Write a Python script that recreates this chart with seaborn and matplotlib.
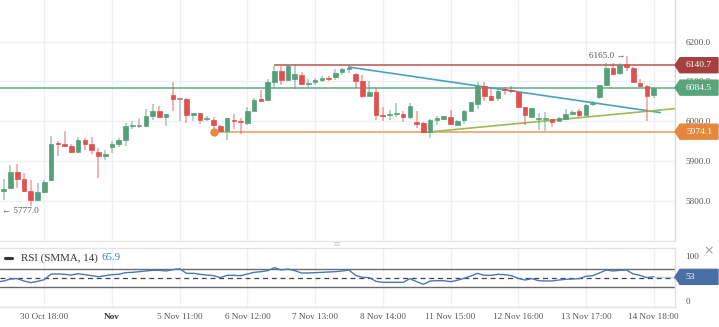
import matplotlib
matplotlib.use("Agg")
import matplotlib.pyplot as plt
import matplotlib.transforms as mtransforms
from matplotlib.patches import Polygon
from matplotlib.lines import Line2D
import numpy as np
import pandas as pd
import seaborn as sns

# ---------------- data ----------------
opens = [5780, 5826, 5832, 5872, 5855, 5825, 5804, 5823, 5852, 5944,
         5944, 5937, 5922, 5954, 5944, 5923, 5912, 5936, 5944, 5952,
         5988, 5989.5, 5989, 6014, 6025, 6012, 6065, 6056, 6057, 6015,
         6021, 6005, 6004, 5988, 5975, 6004, 6002, 5996, 6027, 6056,
         6054, 6098, 6125, 6103, 6107, 6117, 6094, 6098, 6103, 6109,
         6110, 6123, 6132, 6118, 6100, 6064, 6073, 6016, 6017, 6018,
         6018, 6010, 5998, 5996, 5973, 6004, 6006, 6011, 5992, 6004,
         6027, 6043, 6088, 6063, 6058, 6080, 6079, 6073, 6035, 6012,
         6006, 6007, 6006, 6002, 6006, 6019, 6027, 6017, 6043, 6061,
         6090, 6133, 6121, 6143, 6135, 6096, 6089, 6065]
highs = [5828, 5856, 5890, 5893, 5871, 5853, 5846, 5852, 5964, 5950,
         5977, 5942, 5960, 5957, 5962, 5933, 5927, 5950, 5958, 5996,
         6002, 6008, 6031, 6043, 6039, 6019, 6098, 6057, 6059, 6022,
         6022, 6014, 6011, 5990, 6009, 6018, 6008, 6037, 6058, 6079,
         6107, 6138, 6138, 6141, 6141, 6123, 6107, 6108, 6113, 6114,
         6132, 6134, 6144, 6120, 6117, 6100, 6083, 6036, 6029, 6046,
         6025, 6046, 6027, 5998, 6005, 6013, 6014, 6028, 6004, 6028,
         6049, 6098, 6098, 6086, 6079, 6086, 6089, 6074, 6036, 6034,
         6021, 6023, 6007, 6011, 6032, 6029, 6031, 6044, 6050, 6092,
         6146, 6146, 6146, 6165, 6136, 6106, 6092, 6085]
lows = [5777, 5802, 5830, 5832, 5822, 5789, 5801, 5820, 5850, 5912,
        5935, 5920, 5921, 5929, 5917, 5858, 5902, 5920, 5936, 5939,
        5981, 5983, 5988, 6004, 6010, 5989, 6027, 6002, 5996, 6000,
        5994, 6000, 5975, 5975, 5954, 5982, 5969, 5992, 6025, 6048,
        6050, 6083, 6092, 6100, 6080, 6090, 6086, 6092, 6098, 6102,
        6104, 6115, 6120, 6083, 6058, 6063, 6004, 6002, 6004, 6010,
        5998, 6007, 5983, 5971, 5958, 5990, 6004, 5990, 5990, 5993,
        6023, 6031, 6052, 6052, 6050, 6065, 6071, 6033, 5990, 6011,
        5978, 5975, 5986, 6000, 6004, 6018, 6010, 6015, 6038, 6057,
        6088, 6115, 6117, 6125, 6095, 6087, 6002, 6058]
closes = [5825, 5831, 5872, 5856, 5825, 5804, 5823, 5848, 5944, 5942,
          5939, 5922, 5954, 5944, 5927, 5912, 5917, 5944, 5952, 5988,
          5990, 5989.5, 6014, 6025, 6012, 6018, 6057, 6056, 6015, 6021,
          6004, 6007, 5990, 5976, 6008, 6000, 5998, 6027, 6054, 6052,
          6098, 6125, 6103, 6140, 6119, 6093, 6097, 6103, 6108, 6107,
          6121, 6132, 6135, 6100, 6063, 6073, 6017, 6014, 6019, 6020,
          6012, 6039, 5994, 5974, 6004, 6008, 6013, 5994, 6002, 6027,
          6048, 6089, 6063, 6053, 6075, 6078, 6077, 6035, 6015, 6033,
          6008, 6009, 5998, 6008, 6019, 6023, 6017, 6042, 6045, 6090,
          6133, 6118, 6142, 6137, 6098, 6089, 6064, 6084.5]
rsi_values = [41.6, 43.8, 48.2, 49.0, 43.8, 40.0, 43.0, 46.7, 59.3, 59.3,
              58.6, 57.1, 60.0, 57.9, 55.6, 53.4, 55.6, 57.9, 58.6, 62.3,
              63.0, 64.5, 66.0, 67.5, 67.5, 66.0, 69.0, 71.0, 60.8, 60.8,
              58.6, 57.1, 55.6, 51.2, 56.4, 56.4, 55.6, 59.3, 63.0, 64.5,
              66.7, 73.4, 68.2, 70.4, 66.7, 61.6, 61.6, 62.3, 63.0, 63.8,
              64.5, 66.0, 68.2, 56.0, 52.0, 51.2, 43.0, 40.8, 40.8, 40.8,
              40.8, 49.0, 42.3, 36.4, 43.8, 44.5, 44.5, 42.3, 45.3, 49.7,
              54.9, 60.8, 56.4, 56.4, 58.6, 57.9, 55.6, 49.7, 46.0, 49.0,
              44.5, 43.8, 43.8, 46.0, 47.5, 48.2, 49.0, 54.2, 55.6, 61.6,
              68.2, 66.0, 67.5, 68.2, 59.3, 56.4, 51.2, 53.4]
tick_positions = [7, 17, 27, 37, 47, 57, 67, 77, 87, 97]
tick_labels = ["30 Oct 18:00", "Nov", "5 Nov 11:00", "6 Nov 12:00", "7 Nov 13:00",
               "8 Nov 14:00", "11 Nov 15:00", "12 Nov 16:00", "13 Nov 17:00", "14 Nov 18:00"]
price_ticks = [5800, 5900, 6000, 6100, 6200]
level_high = 6140.7
level_last = 6084.5
level_low = 5974.1
level_high_start = 41
level_low_start = 32
trend_down = ([52, 98], [6136, 6022])
trend_up = ([63, 100.2], [5972, 6032])
max_label = 6165.0
min_label = 5777.0
rsi_label_value = 53
rsi_legend_value = 65.9

# ---------------- figure ----------------
sns.set_theme(style="white")
plt.rcParams["font.family"] = ["Liberation Serif", "DejaVu Sans"]

W, H = 719, 327
fig = plt.figure(figsize=(W / 100, H / 100), dpi=100)
fig.patch.set_facecolor("white")
plot_w = 675
main_bottom = 241
rsi_top, rsi_bottom = 248, 307
ax = fig.add_axes([0, (H - main_bottom) / H, plot_w / W, main_bottom / H])
ax2 = fig.add_axes([0, (H - rsi_bottom) / H, plot_w / W, (rsi_bottom - rsi_top) / H])

xl = (0.458, 100.16)
idx = np.arange(len(opens))
df = pd.DataFrame({"i": idx, "o": opens, "h": highs, "l": lows, "c": closes, "rsi": rsi_values})

GREEN = "#54a078"
RED = "#e05050"
GRAY = "#8a8a8a"
colors = [GREEN if c > o else (RED if c < o else GRAY) for o, c in zip(df.o, df.c)]

# wicks
ax.vlines(df.i, df.l, df.h, colors=colors, lw=1.1, alpha=0.55, zorder=3)
# bodies
body_bottom = np.minimum(df.o, df.c)
body_h = np.maximum(np.abs(df.c - df.o), 2.5)
ax.bar(df.i, body_h, bottom=body_bottom, width=0.68, color=colors,
       edgecolor=colors, linewidth=0.5, zorder=4)

ax.set_xlim(*xl)
ax.set_ylim(5700, 6304.25)
ax.set_yticks(price_ticks)
ax.set_yticklabels([f"{v:.1f}" for v in price_ticks])
ax.yaxis.tick_right()
ax.tick_params(axis="y", length=0, pad=7.5, labelsize=6.6, labelcolor="#555555")
ax.set_xticks(tick_positions)
ax.tick_params(axis="x", length=0, labelbottom=False)
ax.grid(True, color="#eef1f4", lw=1)
ax.set_axisbelow(True)
for s in ["top", "left"]:
    ax.spines[s].set_visible(False)
ax.spines["right"].set_color("#d9d9d9")
ax.spines["bottom"].set_color("#e6e6e6")
ax.spines["right"].set_linewidth(1)
ax.spines["bottom"].set_linewidth(1)

# horizontal levels and trend lines
ax.axhline(level_last, color="#6ab48e", lw=1.2, zorder=2)
ax.hlines(level_high, level_high_start, xl[1], color="#c0605e", lw=1.2, zorder=2)
ax.hlines(level_low, level_low_start, xl[1], color="#f0a262", lw=1.2, zorder=2)
ax.plot([level_low_start], [level_low], "o", color="#e58a3e", ms=5, zorder=5)
sns.lineplot(x=trend_down[0], y=trend_down[1], ax=ax, color="#4aa0c4", lw=1.2, zorder=2)
sns.lineplot(x=trend_up[0], y=trend_up[1], ax=ax, color="#a0b858", lw=1.2, zorder=2)

# annotations
ax.text(92.8, max_label - 1, f"{max_label:.1f} \u2192", ha="right", va="center",
        fontsize=6.6, color="#555555", zorder=6)
ax.text(0.68, min_label - 1, f"\u2190 {min_label:.1f}", ha="left", va="center",
        fontsize=6.6, color="#555555", zorder=6)

# price badges
def badge(axis, value, half_h, text, color, text_x=699):
    tr = mtransforms.blended_transform_factory(axis.transAxes, axis.transData)
    verts = [(1.0, value), (680 / plot_w, value + half_h), (718 / plot_w, value + half_h),
             (718 / plot_w, value - half_h), (680 / plot_w, value - half_h)]
    poly = Polygon(verts, closed=True, transform=tr, facecolor=color, edgecolor=color,
                   clip_on=False, zorder=10)
    axis.add_patch(poly)
    axis.text(text_x / plot_w, value, text, transform=tr, ha="center", va="center",
              color="white", fontsize=6.8, zorder=11, clip_on=False)

mpp = (6304.25 - 5700) / main_bottom
badge(ax, level_high, 7.5 * mpp, f"{level_high:.1f}", "#a5403e")
badge(ax, level_last, 7.5 * mpp, f"{level_last:.1f}", "#5aa47c")
badge(ax, level_low, 7.5 * mpp, f"{level_low:.1f}", "#e4883e")

# ---------------- RSI panel ----------------
rsi_ylim = (-14, 117.1)
ax2.set_xlim(*xl)
ax2.set_ylim(*rsi_ylim)
ax2.axhline(70, color="#6b6b6b", lw=1, zorder=2)
ax2.axhline(30, color="#6b6b6b", lw=1, zorder=2)
ax2.axhline(50, color="#444444", lw=0.9, ls=(0, (4, 3)), zorder=2)
sns.lineplot(data=df, x="i", y="rsi", ax=ax2, color="#4a78b5", lw=1, zorder=3)
ax2.hlines(rsi_values[-1], idx[-1], xl[1], color="#4a78b5", lw=1, alpha=0.3, zorder=2)
ax2.set_xlabel("")
ax2.set_ylabel("")
ax.set_xlabel("")
ax.set_ylabel("")
ax2.set_xticks(tick_positions)
ax2.set_xticklabels(tick_labels)
ax2.tick_params(axis="x", length=0, pad=4.5, labelsize=6.6, labelcolor="#555555")
ax2.get_xticklabels()[1].set_fontweight("bold")
ax2.get_xticklabels()[1].set_color("#333333")
ax2.set_yticks([0, 100])
ax2.set_yticklabels(["0", "100"])
ax2.yaxis.tick_right()
ax2.tick_params(axis="y", length=0, pad=7.5, labelsize=6.6, labelcolor="#555555")
ax2.grid(True, axis="x", color="#eef1f4", lw=1)
ax2.grid(False, axis="y")
ax2.set_axisbelow(True)
ax2.spines["left"].set_visible(False)
for s in ["top", "bottom", "right"]:
    ax2.spines[s].set_color("#e2e2e2")
    ax2.spines[s].set_linewidth(1)

badge(ax2, rsi_label_value, 7.5 * (rsi_ylim[1] - rsi_ylim[0]) / (rsi_bottom - rsi_top),
      f"{rsi_label_value}", "#4a6fa5", text_x=690)

# legend of RSI
leg_y = (rsi_bottom - 257.7) / (rsi_bottom - rsi_top)
ax2.add_line(Line2D([5 / plot_w, 12 / plot_w], [leg_y, leg_y], transform=ax2.transAxes,
                    color="#333333", lw=2.2, clip_on=False))
ax2.text(21 / plot_w, leg_y, "RSI (SMMA, 14)", transform=ax2.transAxes, ha="left",
         va="center", fontsize=7.8, color="#333333")
ax2.text(102 / plot_w, leg_y, f"{rsi_legend_value}", transform=ax2.transAxes, ha="left",
         va="center", fontsize=7.8, color="#4a78b5")

# small UI glyphs
fig.text(709 / W, 1 - 251 / H, "\u00d7", ha="center", va="center", fontsize=9,
         color="#999999", family=["DejaVu Sans"])
fig.text(337 / W, 1 - 244.5 / H, "\u2261", ha="center", va="center", fontsize=7,
         color="#cfcfcf", family=["DejaVu Sans"])

fig.savefig("out.png", dpi=100, facecolor="white")
